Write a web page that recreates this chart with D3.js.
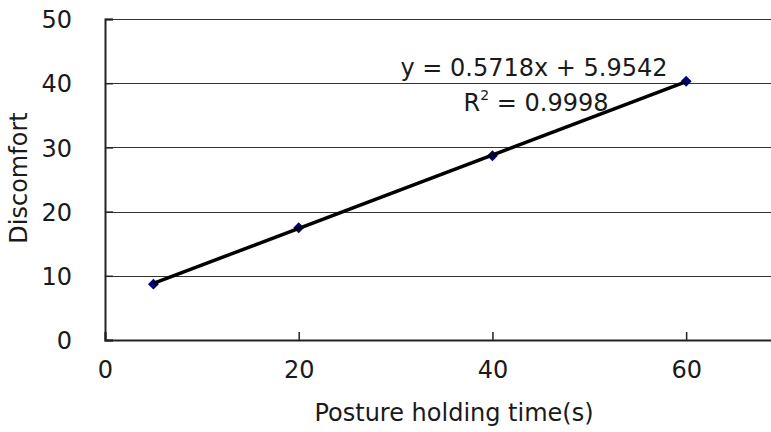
<!DOCTYPE html>
<html>
<head>
<meta charset="utf-8">
<script src="https://cdn.jsdelivr.net/npm/d3@7"></script>
<style>
  html, body { margin: 0; padding: 0; background: #fff; }
  svg { display: block; }
  text { font-family: "DejaVu Sans", sans-serif; fill: #1a1a1a; }
</style>
</head>
<body>
<script>
// ---- data ----
const holdingTime = [5, 20, 40, 60];
const discomfort = [8.7, 17.5, 28.7, 40.3];
const trendSlope = [0.5718];
const trendIntercept = [5.9542];
const rSquared = ["0.9998"];
const xTicks = [0, 20, 40, 60];
const yTicks = [0, 10, 20, 30, 40, 50];
const xTitle = "Posture holding time(s)";
const yTitle = "Discomfort";

const W = 771, H = 432;
const FS = 24;
const svg = d3.select("body").append("svg").attr("width", W).attr("height", H);
svg.append("rect").attr("width", W).attr("height", H).attr("fill", "#fff");

const x = d3.scaleLinear().domain([0, 70]).range([105, 783]);
const y = d3.scaleLinear().domain([0, 50]).range([340, 19]);

// gridlines
svg.append("g").selectAll("line").data(yTicks.filter(d => d > 0)).join("line")
  .attr("x1", x(0)).attr("x2", x(70))
  .attr("y1", d => Math.round(y(d)) + 0.5).attr("y2", d => Math.round(y(d)) + 0.5)
  .attr("stroke", "#333").attr("stroke-width", 1);

// y axis
const yAxis = d3.axisLeft(y).tickValues(yTicks).tickSize(-8).tickPadding(33).tickFormat(d3.format("d"));
const gy = svg.append("g").attr("transform", `translate(${x(0)},0)`).call(yAxis);
gy.select(".domain").attr("stroke", "#222").attr("stroke-width", 2);
gy.selectAll(".tick line").attr("stroke", "#222").attr("stroke-width", 1.5);
gy.selectAll(".tick text").attr("font-size", FS).attr("font-family", "DejaVu Sans").attr("fill", "#1a1a1a").attr("dy", "0.36em");

// x axis
const xAxis = d3.axisBottom(x).tickValues(xTicks).tickSize(-8).tickPadding(33).tickFormat(d3.format("d"));
const gx = svg.append("g").attr("transform", `translate(0,${y(0)})`).call(xAxis);
gx.select(".domain").attr("stroke", "#222").attr("stroke-width", 2);
gx.selectAll(".tick line").attr("stroke", "#222").attr("stroke-width", 1.5);
gx.selectAll(".tick text").attr("font-size", FS).attr("font-family", "DejaVu Sans").attr("fill", "#1a1a1a").attr("dy", "0.2em");

// markers (rotated squares)
const sq = d3.symbol().type(d3.symbolSquare).size(60);
svg.append("g").selectAll("path").data(holdingTime.map((t, i) => [t, discomfort[i]])).join("path")
  .attr("d", sq)
  .attr("transform", d => `translate(${x(d[0])},${y(d[1])}) rotate(45)`)
  .attr("fill", "#000080");

// trendline
const xr = d3.extent(holdingTime);
svg.append("line")
  .attr("x1", x(xr[0])).attr("y1", y(trendSlope[0] * xr[0] + trendIntercept[0]))
  .attr("x2", x(xr[1])).attr("y2", y(trendSlope[0] * xr[1] + trendIntercept[0]))
  .attr("stroke", "#000").attr("stroke-width", 3.5);

// equation labels
svg.append("text").attr("x", 534).attr("y", 76).attr("text-anchor", "middle").attr("font-size", FS)
  .text(`y = ${trendSlope[0]}x + ${trendIntercept[0]}`);
const r2 = svg.append("text").attr("x", 536).attr("y", 111).attr("text-anchor", "middle").attr("font-size", FS);
r2.append("tspan").text("R");
r2.append("tspan").attr("font-size", 14).attr("dy", -11).text("2");
r2.append("tspan").attr("dy", 11).text(` = ${rSquared[0]}`);

// axis titles
svg.append("text").attr("x", 454).attr("y", 421).attr("text-anchor", "middle").attr("font-size", FS).text(xTitle);
svg.append("text").attr("transform", `translate(27,178) rotate(-90)`).attr("text-anchor", "middle").attr("font-size", FS).text(yTitle);
</script>
</body>
</html>
